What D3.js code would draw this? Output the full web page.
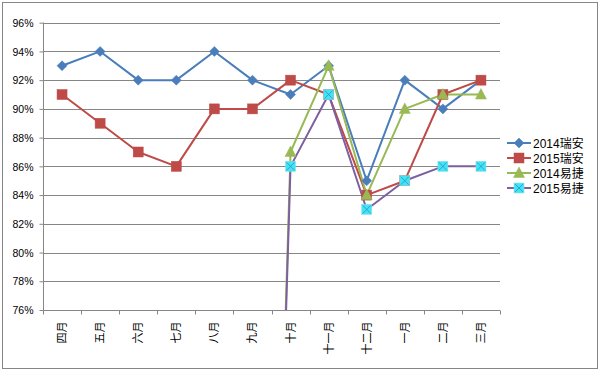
<!DOCTYPE html>
<html>
<head>
<meta charset="utf-8">
<script src="https://cdn.jsdelivr.net/npm/d3@7"></script>
<style>
  body { margin: 0; background: #fff; }
  text { font-family: "Liberation Sans", "Noto Sans CJK SC", sans-serif; fill: #000; }
</style>
</head>
<body>
<div class="chart"></div>
<script>
// months (April .. March)
var months = ["四月", "五月", "六月", "七月", "八月", "九月", "十月", "十一月", "十二月", "一月", "二月", "三月"];
var yTicks = [0.76, 0.78, 0.80, 0.82, 0.84, 0.86, 0.88, 0.90, 0.92, 0.94, 0.96];

var ruian2014 = [0.93, 0.94, 0.92, 0.92, 0.94, 0.92, 0.91, 0.93, 0.85, 0.92, 0.90, 0.92];
var ruian2015 = [0.91, 0.89, 0.87, 0.86, 0.90, 0.90, 0.92, 0.91, 0.84, 0.85, 0.91, 0.92];
var yijie2014 = [null, null, null, null, null, 0, 0.87, 0.93, 0.84, 0.90, 0.91, 0.91];
var yijie2015 = [null, null, null, null, null, 0, 0.86, 0.91, 0.83, 0.85, 0.86, 0.86];

var seriesNames = ["2014瑞安", "2015瑞安", "2014易捷", "2015易捷"];

var series = [
  {name: seriesNames[0], values: ruian2014, line: "#4A7EBB", marker: "diamond", fill: "#4A7EBB"},
  {name: seriesNames[1], values: ruian2015, line: "#BE4B48", marker: "square", fill: "#BE4B48"},
  {name: seriesNames[2], values: yijie2014, line: "#98B954", marker: "triangle", fill: "#98B954"},
  {name: seriesNames[3], values: yijie2015, line: "#7D60A0", marker: "xbox", fill: "#3EE6F5"}
];

var width = 600, height = 371;
var plot = {left: 43, right: 500, top: 22.7, bottom: 310};

var svg = d3.select(".chart").append("svg")
  .attr("width", width)
  .attr("height", height);

// outer frame
svg.append("rect")
  .attr("x", 2.5).attr("y", 2.5)
  .attr("width", 595).attr("height", 366)
  .attr("fill", "#fff")
  .attr("stroke", "#868686");

var x = d3.scaleBand().domain(months).range([plot.left, plot.right]).padding(0);
var y = d3.scaleLinear().domain([0.76, 0.96]).range([plot.bottom, plot.top]);

svg.append("defs").append("clipPath").attr("id", "plotclip")
  .append("rect")
  .attr("x", plot.left).attr("y", plot.top - 10)
  .attr("width", plot.right - plot.left + 10)
  .attr("height", plot.bottom - plot.top + 10);

// gridlines
svg.append("g").selectAll("line")
  .data(yTicks.slice(1))
  .enter().append("line")
  .attr("x1", plot.left).attr("x2", plot.right)
  .attr("y1", d => Math.round(y(d)) + 0.5).attr("y2", d => Math.round(y(d)) + 0.5)
  .attr("stroke", "#868686");

// y axis
var yAxis = d3.axisLeft(y).tickValues(yTicks).tickFormat(d3.format(".0%")).tickSize(4).tickPadding(6);
var gy = svg.append("g")
  .attr("transform", `translate(${plot.left + 0.5},0)`)
  .call(yAxis);
gy.selectAll("text").style("font-size", "10.5px").attr("dy", "0.35em");
gy.selectAll("line, path").attr("stroke", "#868686");
gy.select(".domain").attr("d", `M0,${plot.top}V${plot.bottom}`);

// x axis: ticks between categories
var gx = svg.append("g").attr("transform", `translate(0,${plot.bottom + 0.5})`);
gx.append("line")
  .attr("x1", plot.left).attr("x2", plot.right)
  .attr("stroke", "#868686");
gx.selectAll(".tick")
  .data(months.concat(["end"]))
  .enter().append("line")
  .attr("x1", (d, i) => Math.round(plot.left + i * x.bandwidth()) + 0.5)
  .attr("x2", (d, i) => Math.round(plot.left + i * x.bandwidth()) + 0.5)
  .attr("y1", 0).attr("y2", 4)
  .attr("stroke", "#868686");
gx.selectAll(".lab")
  .data(months)
  .enter().append("text")
  .attr("text-anchor", "end")
  .attr("transform", d => `translate(${x(d) + x.bandwidth() / 2 + 4},11) rotate(-90)`)
  .style("font-size", "11px")
  .text(d => d);

// lines
var line = d3.line()
  .defined(d => d != null)
  .x((d, i) => x(months[i]) + x.bandwidth() / 2)
  .y(d => y(d));

var lines = svg.append("g").attr("clip-path", "url(#plotclip)");
series.forEach(s => {
  lines.append("path")
    .datum(s.values)
    .attr("fill", "none")
    .attr("stroke", s.line)
    .attr("stroke-width", 2)
    .attr("stroke-linejoin", "round")
    .attr("d", line);
});

function drawMarker(g, type, fill, stroke) {
  if (type == "diamond") {
    g.append("path").attr("d", "M0,-5L5,0L0,5L-5,0Z").attr("fill", fill).attr("stroke", stroke).attr("stroke-width", 0.5);
  } else if (type == "square") {
    g.append("rect").attr("x", -5).attr("y", -5).attr("width", 10).attr("height", 10).attr("fill", fill).attr("stroke", stroke).attr("stroke-width", 0.5);
  } else if (type == "triangle") {
    g.append("path").attr("d", "M0,-6L5.5,4.5L-5.5,4.5Z").attr("fill", fill).attr("stroke", stroke).attr("stroke-width", 0.5);
  } else {
    g.append("rect").attr("x", -5).attr("y", -5).attr("width", 10).attr("height", 10).attr("fill", fill).attr("stroke", "#8ED8E8").attr("stroke-width", 0.5);
    g.append("path").attr("d", "M-4,-4L4,4M4,-4L-4,4").attr("stroke", "#3E8AC0").attr("stroke-width", 0.8);
  }
}

// markers (skip the off-chart zero points)
series.forEach(s => {
  s.values.forEach((v, i) => {
    if (v == null || v < 0.76) return;
    var g = svg.append("g")
      .attr("transform", `translate(${x(months[i]) + x.bandwidth() / 2},${y(v)})`);
    drawMarker(g, s.marker, s.fill, s.line);
  });
});

// legend
var legend = svg.selectAll(".legend")
  .data(series)
  .enter().append("g")
  .attr("class", "legend")
  .attr("transform", (d, i) => `translate(507,${143 + i * 15})`);

legend.append("line")
  .attr("x1", 0).attr("x2", 24)
  .attr("stroke", d => d.line)
  .attr("stroke-width", 2);
legend.each(function(d) {
  var g = d3.select(this).append("g").attr("transform", "translate(12,0)");
  drawMarker(g, d.marker, d.fill, d.line);
});
legend.append("text")
  .attr("x", 26)
  .attr("dy", "0.38em")
  .style("font-size", "12px")
  .text(d => d.name);
</script>
</body>
</html>
